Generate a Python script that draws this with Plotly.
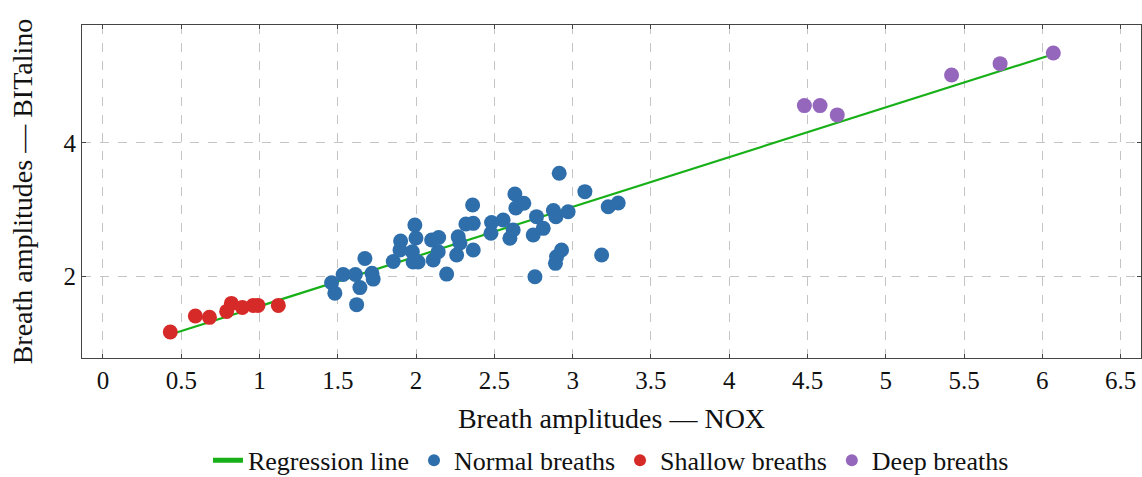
import numpy as np
import plotly.graph_objects as go

# ---- data ----
normal_x = [1.460, 1.481, 1.534, 1.612, 1.673, 1.641, 1.620, 1.718, 1.726, 1.854,
            1.901, 1.897, 1.992, 1.999, 1.976, 1.981, 2.013, 2.099, 2.144, 2.109,
            2.141, 2.195, 2.259, 2.269, 2.318, 2.361, 2.365, 2.280, 2.365, 2.482,
            2.478, 2.556, 2.599, 2.620, 2.631, 2.637, 2.688, 2.769, 2.812, 2.748,
            2.759, 2.914, 3.078, 2.877, 2.893, 2.971, 2.929, 2.897, 2.890, 3.185,
            3.227, 3.291]
normal_y = [1.899, 1.744, 2.023, 2.023, 2.263, 1.827, 1.571, 2.041, 1.955, 2.218,
            2.526, 2.391, 2.767, 2.571, 2.365, 2.211, 2.211, 2.541, 2.579, 2.241,
            2.365, 2.030, 2.316, 2.591, 2.782, 3.068, 2.792, 2.496, 2.391, 2.805,
            2.642, 2.842, 2.567, 2.692, 3.233, 3.023, 3.093, 2.892, 2.717, 2.617,
            1.989, 3.544, 3.268, 2.985, 2.892, 2.967, 2.391, 2.290, 2.191, 2.316,
            3.042, 3.098]

shallow_x = [0.43, 0.59, 0.68, 0.79, 0.82, 0.89, 0.96, 0.99, 1.12]
shallow_y = [1.16, 1.40, 1.38, 1.47, 1.59, 1.53, 1.56, 1.56, 1.56]

deep_x = [4.48, 4.58, 4.69, 5.42, 5.73, 6.07]
deep_y = [4.56, 4.56, 4.42, 5.02, 5.19, 5.35]

x_ticks = [0, 0.5, 1, 1.5, 2, 2.5, 3, 3.5, 4, 4.5, 5, 5.5, 6, 6.5]
x_tick_labels = ["0", "0.5", "1", "1.5", "2", "2.5", "3", "3.5", "4", "4.5", "5", "5.5", "6", "6.5"]
y_ticks = [2, 4]
y_tick_labels = ["2", "4"]

# ---- regression over all breaths ----
all_x = np.array(normal_x + shallow_x + deep_x)
all_y = np.array(normal_y + shallow_y + deep_y)
slope, intercept = np.polyfit(all_x, all_y, 1)
reg_x = np.array([all_x.min(), all_x.max()])
reg_y = slope * reg_x + intercept

FONT = "'Liberation Serif', 'Times New Roman', 'DejaVu Serif', serif"
fig = go.Figure()
fig.add_trace(go.Scatter(x=reg_x, y=reg_y, mode="lines", name="Regression line",
                         line=dict(color="#18b018", width=2.2)))
fig.add_trace(go.Scatter(x=normal_x, y=normal_y, mode="markers", name="Normal breaths",
                         marker=dict(color="#2e6eab", size=15, line=dict(width=0))))
fig.add_trace(go.Scatter(x=shallow_x, y=shallow_y, mode="markers", name="Shallow breaths",
                         marker=dict(color="#d62a28", size=15, line=dict(width=0))))
fig.add_trace(go.Scatter(x=deep_x, y=deep_y, mode="markers", name="Deep breaths",
                         marker=dict(color="#9467bd", size=15, line=dict(width=0))))

axis_common = dict(
    showline=True, linecolor="#444", linewidth=1, mirror="ticks",
    ticks="inside", ticklen=4, tickcolor="#444",
    showgrid=True, gridcolor="#c4c4c4", griddash="dash", gridwidth=1,
    zeroline=False, tickfont=dict(family=FONT, size=25, color="#111"),
)

fig.update_layout(
    width=1142, height=477,
    margin=dict(l=82, r=1, t=25, b=119),
    paper_bgcolor="white", plot_bgcolor="white",
    font=dict(family=FONT, size=25, color="#111"),
    xaxis=dict(range=[-0.134, 6.63], tickvals=x_ticks, ticktext=x_tick_labels,
               automargin=False,
               title=dict(text="Breath amplitudes — NOX", standoff=15,
                          font=dict(family=FONT, size=28)),
               **axis_common),
    yaxis=dict(range=[0.77, 5.77], tickvals=y_ticks, ticktext=y_tick_labels,
               automargin=False,
               title=dict(text="Breath amplitudes — BITalino", standoff=22,
                          font=dict(family=FONT, size=28)),
               **axis_common),
    showlegend=True,
    legend=dict(orientation="h", x=0.535, xanchor="center", xref="container",
                y=0.035, yanchor="middle", yref="container",
                font=dict(family=FONT, size=26), itemsizing="constant",
                bgcolor="rgba(0,0,0,0)", itemwidth=30, tracegroupgap=0),
)

fig.write_html("out.html")
